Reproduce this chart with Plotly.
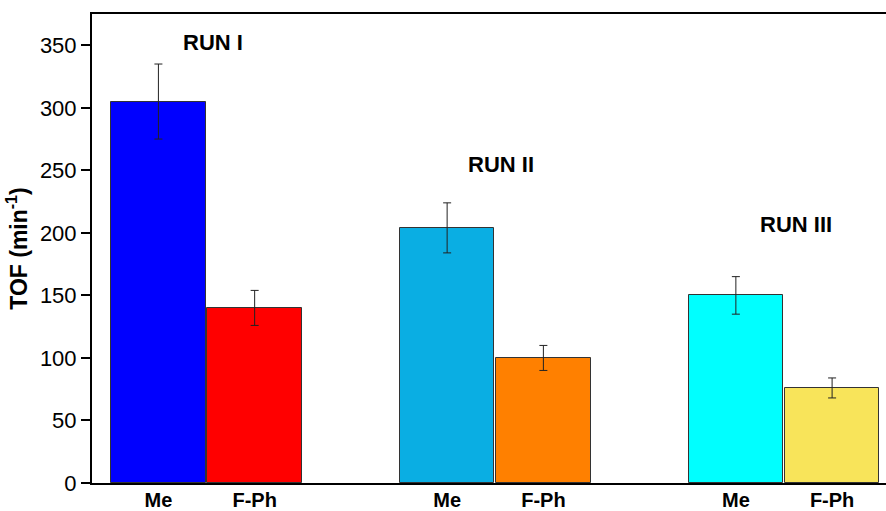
import plotly.graph_objects as go

# Turnover frequency per run for the two substituents
runs = ["RUN I", "RUN II", "RUN III"]
substituents = ["Me", "F-Ph"]
tof_me = [305, 204, 150]
tof_fph = [140, 100, 76]
err_me = [30, 20, 15]
err_fph = [14, 10, 8]

me_colors = ["#0000FF", "#0AAEE3", "#00FFFF"]
fph_colors = ["#FF0000", "#FF8000", "#F8E45A"]

group_step = 3
me_x = [i * group_step for i in range(len(runs))]
fph_x = [i * group_step + 1 for i in range(len(runs))]

font_family = "Arial, Liberation Sans, sans-serif"

fig = go.Figure()
fig.add_trace(go.Bar(
    x=me_x, y=tof_me, width=0.98,
    marker=dict(color=me_colors, line=dict(color="#333333", width=1)),
    error_y=dict(type="data", array=err_me, color="#222222", thickness=1, width=4),
    showlegend=False,
))
fig.add_trace(go.Bar(
    x=fph_x, y=tof_fph, width=0.98,
    marker=dict(color=fph_colors, line=dict(color="#333333", width=1)),
    error_y=dict(type="data", array=err_fph, color="#222222", thickness=1, width=4),
    showlegend=False,
))

# Run labels sit above each group
run_label_pos = [(0.57, 352), (3.56, 255), (6.62, 207)]
for name, (lx, ly) in zip(runs, run_label_pos):
    fig.add_annotation(x=lx, y=ly, text=f"<b>{name}</b>", showarrow=False,
                       font=dict(family=font_family, size=22, color="black"))

tickvals = sorted(me_x + fph_x)
ticktext = [substituents[v % group_step] for v in tickvals]

fig.update_layout(
    width=886, height=511,
    margin=dict(l=92, r=0, t=14, b=28),
    plot_bgcolor="white", paper_bgcolor="white",
    bargap=0,
    font=dict(family=font_family, color="black"),
    xaxis=dict(
        range=[-0.69, 7.56],
        tickvals=tickvals,
        ticktext=[f"<b>{t}</b>" for t in ticktext],
        tickfont=dict(size=20),
        ticklabelstandoff=-2,
        showline=True, linecolor="black", linewidth=2, mirror=True,
        ticks="", showgrid=False, zeroline=False, automargin=False,
    ),
    yaxis=dict(
        range=[0, 375],
        tickvals=[0, 50, 100, 150, 200, 250, 300, 350],
        tickfont=dict(size=22),
        ticks="outside", ticklen=9, tickwidth=1.5, tickcolor="black",
        showline=True, linecolor="black", linewidth=2,
        showgrid=False, zeroline=False, automargin=False,
        title=dict(text="<b>TOF (min<sup>-1</sup>)</b>", font=dict(size=23), standoff=6),
    ),
)

fig.write_html("out.html")
